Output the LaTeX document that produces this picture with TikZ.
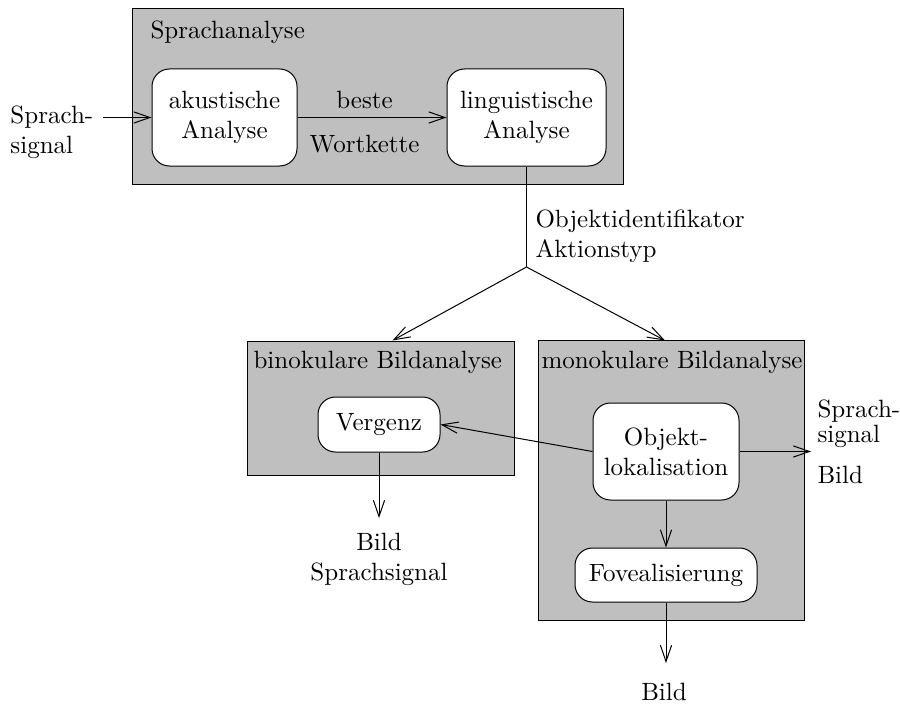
\documentclass[tikz,border=0pt]{standalone}
\usepackage{tikz}
\usetikzlibrary{arrows.meta}
\tikzset{>={Straight Barb[length=6.5pt,width=4.5pt]}}
\tikzset{
  grpbox/.style={draw, fill=black!25, inner sep=0pt},
  procbox/.style={draw, fill=white, rounded corners=7pt, align=center, inner sep=0pt},
  lbl/.style={inner sep=0pt, align=left}
}

\begin{document}
\begin{tikzpicture}[x=0.4pt, y=-0.4pt]
        \useasboundingbox (0,0) rectangle (900,706);
        % grey groups
        \node[grpbox, minimum width=196pt, minimum height=70pt] (sprach) at (378,96.5) {};
        \node[grpbox, minimum width=106.8pt, minimum height=53.6pt] (binok) at (380.5,408) {};
        \node[grpbox, minimum width=106.4pt, minimum height=111.6pt] (monok) at (671,480.5) {};
        \node[lbl, anchor=base west] (sprachtitle) at (150,39) {Sprachanalyse};
        \node[lbl, anchor=base west] (binoktitle) at (253,368) {binokulare Bildanalyse};
        \node[lbl, anchor=base west] (monoktitle) at (541,368) {monokulare Bildanalyse};
        % boxes
        \node[procbox, minimum width=58pt, minimum height=38.8pt] (akust) at (224.5,117.5) {akustische\\Analyse};
        \node[procbox, minimum width=63.6pt, minimum height=38.8pt] (lingu) at (526.5,117.5) {linguistische\\Analyse};
        \node[procbox, minimum width=48.8pt, minimum height=22pt] (vergenz) at (379,424.5) {Vergenz};
        \node[procbox, minimum width=58.4pt, minimum height=38.8pt] (objekt) at (666,451.5) {Objekt-\\lokalisation};
        \node[procbox, minimum width=72.8pt, minimum height=21.6pt] (fovea) at (666,575) {Fovealisierung};
        % input
        \node[lbl, anchor=north west] (sigtext) at (10,105) {Sprach-\\signal};
        \coordinate (sigin) at (103,117.5);
        \draw[->] (sigin) -- (akust);
        \draw[->] (akust) -- (lingu) node[pos=0.45, above] (beste) {beste}
                node[pos=0.45, below=3.5pt] (wortkette) {Wortkette};
        % split
        \coordinate (split) at (526.5,267);
        \draw (lingu) -- (split);
        \node[lbl, anchor=north west] (objid) at (535,209) {Objektidentifikator\\Aktionstyp};
        \draw[->] (split) -- ([xshift=4.8pt]binok.north);
        \draw[->] (split) -- ([xshift=-2.4pt]monok.north);
        % lower part
        \draw[->] (objekt.west) -- (vergenz.east);
        \coordinate (objout) at (811,451.5);
        \draw[->] (objekt) -- (objout);
        \node[lbl, anchor=north west] (rsig) at (817,399) {Sprach-\\[-2pt]signal};
        \node[lbl, anchor=base west] (rbild) at (817,483) {Bild};
        \draw[->] (objekt) -- (fovea);
        \coordinate (vergout) at (379,518);
        \draw[->] (vergenz) -- (vergout);
        \node[lbl, align=center, anchor=north] (bildsig) at (379,533) {Bild\\Sprachsignal};
        \coordinate (foveout) at (666,663);
        \draw[->] (fovea) -- (foveout);
        \node[lbl, anchor=base] (bild) at (664,700) {Bild};
\end{tikzpicture}
\end{document}
